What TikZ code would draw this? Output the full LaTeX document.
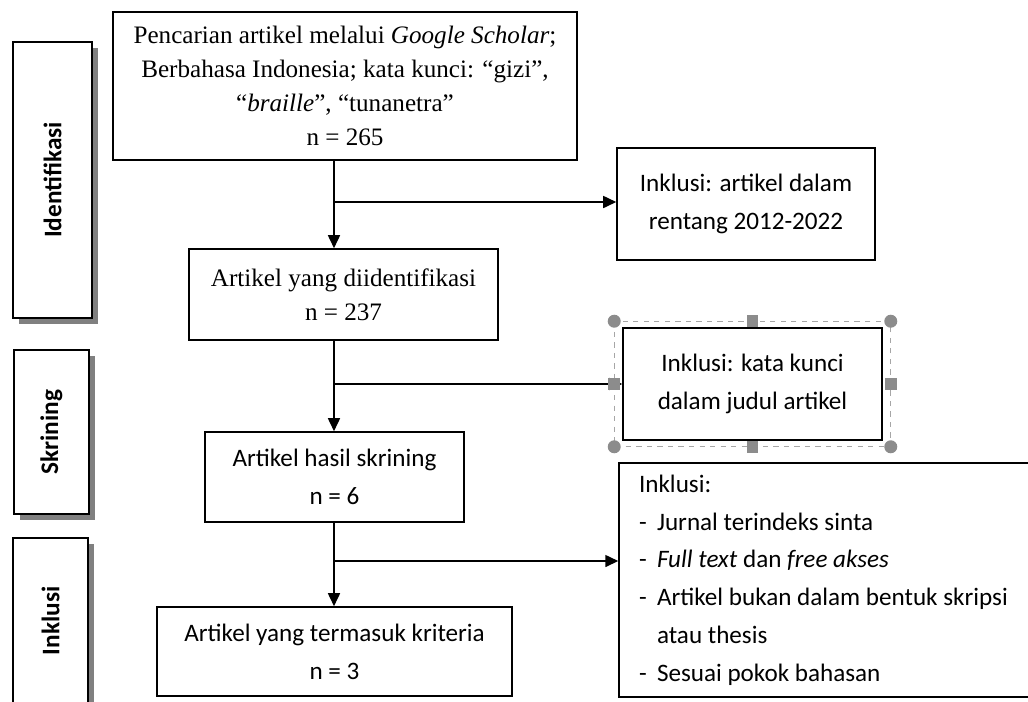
\documentclass[tikz,border=0pt]{standalone}
\usepackage{fontspec}
\setmainfont{Liberation Serif}
\newfontfamily\calibri{Carlito}
\usepackage{tikz}
\usetikzlibrary{positioning,arrows.meta,shadows}

\newcommand{\dashitem}{\makebox[0.36cm][l]{-}}

\begin{document}
\begin{tikzpicture}[x=0.02cm, y=-0.02cm,
  stage/.style = {draw, line width=0.9pt, align=center, font=\fontsize{14.3}{19.5}\selectfont},
  stagecal/.style = {stage, font=\calibri\fontsize{14.3}{21.5}\selectfont},
  phase/.style = {draw, line width=0.9pt, fill=white,
    drop shadow={shadow xshift=0.12cm, shadow yshift=-0.12cm, fill=black!50, opacity=1}},
  phasetext/.style = {rotate=90, font=\calibri\bfseries\fontsize{14.4}{17}\selectfont},
  arr/.style = {-{Triangle[length=0.26cm,width=0.24cm]}, line width=0.9pt},
  hdot/.style = {circle, fill=black!45, inner sep=0pt, minimum size=0.26cm},
  hsq/.style = {rectangle, fill=black!45, inner sep=0pt, minimum size=0.23cm}]
  \useasboundingbox (0,0) rectangle (1028,701);
  \clip (0,0) rectangle (1028,701);

  % tahapan di kiri
  \node[phase, minimum width=1.58cm, minimum height=5.52cm] (idbox) at (52.5,180) {};
  \node[phasetext] (idlab) at (idbox) {Identifikasi};
  \node[phase, minimum width=1.5cm, minimum height=3.28cm] (scrbox) at (51.5,432) {};
  \node[phasetext] (scrlab) at (scrbox) {Skrining};
  \node[phase, minimum width=1.5cm, minimum height=3.32cm] (incbox) at (50.5,621) {};
  \node[phasetext] (inclab) at (incbox) {Inklusi};

  % alur utama
  \node[stage, minimum width=9.28cm, minimum height=2.96cm] (search) at (345,86)
    {Pencarian artikel melalui \textit{Google Scholar};\\
     Berbahasa Indonesia; kata kunci: ``gizi'',\\
     ``\textit{braille}'', ``tunanetra''\\
     n = 265};
  \node[stage, minimum width=6.18cm, minimum height=1.82cm] (ident) at (343.5,294.5)
    {Artikel yang diidentifikasi\\ n = 237};
  \node[stagecal, minimum width=5.18cm, minimum height=1.8cm] (screen) at (334.5,477)
    {Artikel hasil skrining\\ n = 6};
  \node[stagecal, minimum width=7.1cm, minimum height=1.78cm] (final) at (334.5,651.5)
    {Artikel yang termasuk kriteria\\ n = 3};

  % kriteria di kanan
  \node[stagecal, minimum width=5.16cm, minimum height=2.24cm] (critA) at (746,204)
    {Inklusi: artikel dalam\\ rentang 2012-2022};
  \node[stagecal, minimum width=5.18cm, minimum height=2.24cm] (critB) at (752.5,384)
    {Inklusi: kata kunci\\ dalam judul artikel};
  \node[stagecal, align=flush left, text width=7.72cm, inner xsep=0.4cm, minimum height=4.68cm] (critC) at (832,580)
    {Inklusi:\\
     \dashitem Jurnal terindeks sinta\\
     \dashitem \textit{Full text} dan \textit{free akses}\\
     \dashitem Artikel bukan dalam bentuk skripsi\\
     \hspace*{0.36cm}atau thesis\\
     \dashitem Sesuai pokok bahasan};

  % panah
  \coordinate (j1) at (334,202);
  \coordinate (j2) at (334,384);
  \coordinate (j3) at (334,561);
  \draw[arr] (search.south -| j1) -- (ident.north -| j1);
  \draw[arr] (j1) -- (j1 -| critA.west);
  \draw[arr] (ident.south -| j2) -- (screen.north -| j2);
  \draw[arr] (j2) -- (j2 -| critB.west);
  \draw[arr] (screen.south -| j3) -- (final.north -| j3);
  \draw[arr] (j3) -- (j3 -| critC.west);

  % bingkai seleksi
  \coordinate (snw) at ([shift={(-8,-6)}]critB.north west);
  \coordinate (sse) at ([shift={(8,6)}]critB.south east);
  \draw[black!35, dashed, line width=0.6pt] (snw) rectangle (sse);
  \foreach \p in {snw, sse, snw -| sse, snw |- sse}
    \node[hdot] at (\p) {};
  \foreach \p in {snw |- critB, sse |- critB, critB |- snw, critB |- sse}
    \node[hsq] at (\p) {};
\end{tikzpicture}
\end{document}
